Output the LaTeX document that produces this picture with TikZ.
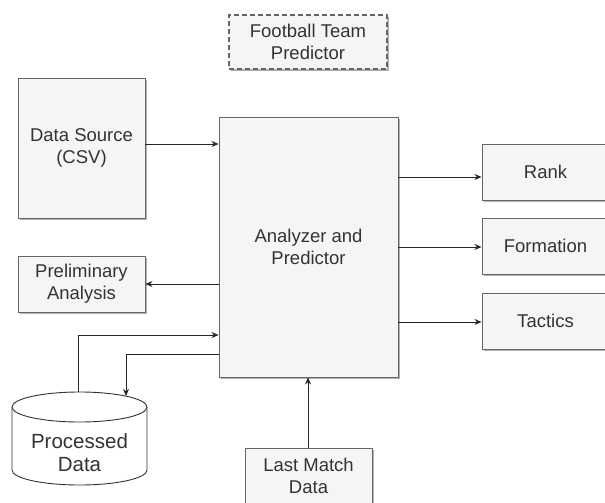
\documentclass[tikz,border=0pt]{standalone}
\usepackage{fontspec}
\setmainfont{Liberation Sans}
\usetikzlibrary{arrows.meta,shadows}
\definecolor{boxfill}{HTML}{F5F5F5}
\definecolor{boxline}{HTML}{666666}
\definecolor{txt}{HTML}{333333}
\begin{document}
\begin{tikzpicture}[x=1pt,y=-1pt,
  box/.style={draw=boxline, fill=boxfill, line width=0.9pt, align=center, text=txt,
    font=\fontsize{18.5}{22}\selectfont, inner sep=0pt,
    drop shadow={shadow xshift=2pt, shadow yshift=-2pt, fill=gray!60, opacity=1}},
  conn/.style={draw=black!85, line width=0.9pt, -{Stealth[length=7pt,width=6pt]}}]
\useasboundingbox (0,0) rectangle (605,503);
\begin{scope}
\clip (0,0) rectangle (605,503);
\node[box, line width=1.8pt, dash pattern=on 5pt off 3pt, minimum width=158pt, minimum height=54pt] (title) at (308,42) {Football Team\\Predictor};
\node[box, minimum width=127pt, minimum height=140pt] (src) at (81.5,148) {Data Source\\(CSV)};
\node[box, minimum width=127pt, minimum height=56pt] (pre) at (81.5,284) {Preliminary\\Analysis};
\node[box, minimum width=179pt, minimum height=260pt] (ana) at (308.5,247) {Analyzer and\\Predictor};
\node[box, minimum width=127pt, minimum height=56pt] (rank) at (545.5,172) {Rank};
\node[box, minimum width=127pt, minimum height=56pt] (form) at (545.5,246) {Formation};
\node[box, minimum width=127pt, minimum height=56pt] (tac) at (545.5,321) {Tactics};
\node[box, minimum width=127pt, minimum height=56pt] (last) at (308.5,476) {Last Match\\Data};
% cylinder
\draw[draw=black!80, fill=white, line width=0.9pt] (12,407) -- (12,470) arc[start angle=180, end angle=0, x radius=67.5, y radius=15] -- (147,407);
\draw[draw=black!80, fill=white, line width=0.9pt] (79.5,407) ellipse[x radius=67.5, y radius=15];
\node[text=txt, align=center, font=\fontsize{20.5}{23}\selectfont] (pd) at (79.5,453) {Processed\\Data};
\coordinate (pdout) at (78,392);
\coordinate (pdin) at (126,396);
\end{scope}
\draw[conn] (src.east |- 0,144) -- (ana.west |- 0,144);
\draw[conn] (ana.west |- 0,284) -- (pre.east |- 0,284);
\draw[conn] (ana.east |- 0,177) -- (rank.west |- 0,177);
\draw[conn] (ana.east |- 0,247) -- (form.west |- 0,247);
\draw[conn] (ana.east |- 0,322) -- (tac.west |- 0,322);
\draw[conn] (last.north -| 308,0) -- (ana.south -| 308,0);
\draw[conn] (pdout) |- (ana.west |- 0,335);
\draw[conn] (ana.west |- 0,354) -| (pdin);
\end{tikzpicture}
\end{document}
